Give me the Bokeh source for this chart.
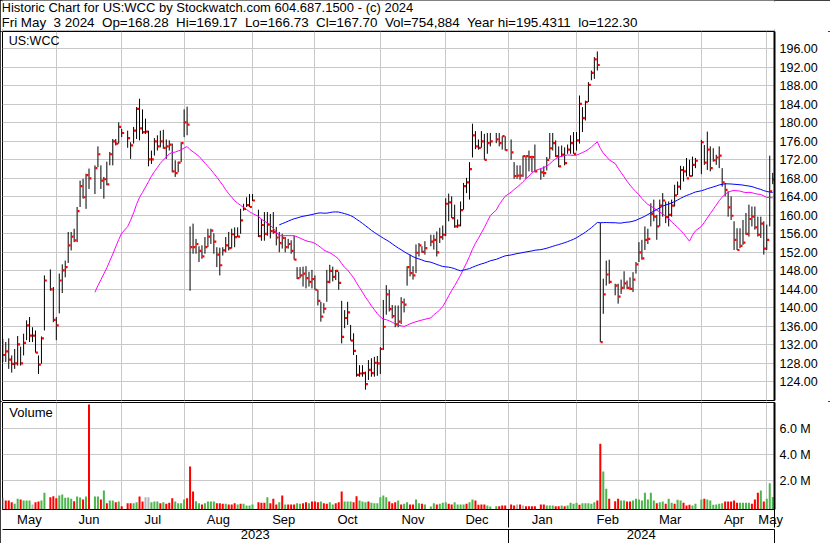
import numpy as np
import pandas as pd
from bokeh.plotting import figure
from bokeh.models import (Range1d, FixedTicker, PrintfTickFormatter, Label, LinearAxis,
                          ColumnDataSource)
from bokeh.layouts import column
from bokeh.embed import file_html
from bokeh.resources import INLINE

# ---------------- chart values ----------------
first_day = "2023-05-08"
last_day = "2024-05-03"
holidays = ["2023-05-29", "2023-06-19", "2023-07-04", "2023-09-04", "2023-11-23",
            "2023-12-25", "2024-01-01", "2024-01-15", "2024-02-19", "2024-03-29"]

high = [
    133.3, 132.6, 133.4, 129.7, 131.1, 133.9, 131.6, 134.4, 137.3, 138.0, 135.8, 135.1, 129.7, 133.8, 147.0, 148.3, 144.5,
    138.0, 147.4, 149.4, 150.2, 156.4, 156.4, 157.1, 161.8, 167.5, 167.9, 169.0, 170.1, 170.8, 174.9, 170.8, 168.3, 171.6, 173.7, 176.5, 176.5, 180.1,
    178.7, 178.3, 175.8, 179.1, 183.4, 185.2, 182.9, 180.9, 178.3, 174.0, 176.7, 177.3, 178.3, 178.5, 176.4, 176.2, 175.5, 171.9, 171.6, 175.8,
    182.9, 183.5, 157.6, 158.2, 154.9, 153.3, 153.5, 155.3, 157.1, 157.1, 156.1, 153.1, 153.0, 153.1, 155.3, 156.4, 157.1, 157.4, 157.4, 161.4, 162.5, 163.9, 164.6,
    164.6, 161.2, 159.2, 160.7, 160.7, 160.3, 160.7, 157.5, 156.4, 156.0, 155.3, 154.9, 154.6, 155.6, 148.8, 148.8, 148.9, 149.0, 147.8, 148.2,
    147.0, 143.9, 141.3, 141.0, 148.2, 149.3, 148.9, 148.2, 147.8, 141.5, 139.5, 141.3, 136.3, 134.5, 129.8, 127.6, 127.6, 126.2, 128.7, 129.1, 129.4, 129.6,
    131.5, 141.7, 144.9, 143.9, 140.6, 140.5, 140.5, 142.3, 142.0, 149.0, 151.5, 149.0, 153.7, 154.0, 153.3, 154.4, 155.8, 155.8, 156.5, 157.3, 157.8,
    163.7, 164.7, 164.1, 162.3, 159.1, 163.0, 167.0, 168.1, 171.5, 179.8, 178.2, 176.4, 178.2, 177.6, 177.8, 177.8, 177.8, 177.8, 177.1, 177.1,
    176.4, 171.5, 170.8, 170.8, 172.9, 172.9, 174.0, 172.9, 175.3, 170.1, 170.6, 172.6, 177.8, 177.8, 176.2, 174.9, 175.1, 174.7, 175.3, 177.3, 178.0,
    178.0, 185.9, 183.4, 184.8, 188.8, 191.3, 194.2, 195.43, 158.4, 146.3, 150.2, 150.4, 145.2, 145.2, 146.1, 147.9, 145.9, 146.6, 147.7, 149.9,
    154.2, 154.7, 157.6, 157.1, 162.6, 163.4, 160.1, 163.4, 164.8, 163.0, 163.0, 163.4, 166.6, 167.3, 170.7, 170.6, 172.4, 172.0, 172.7, 172.4,
    176.3, 175.2, 178.1, 174.9, 174.5, 173.1, 174.9, 170.2, 167.0, 165.2, 164.1, 158.7, 157.2, 157.2, 159.0, 160.5, 162.3, 161.9, 161.9, 159.7, 159.7, 158.7,
    158.0, 172.9, 169.17,
]
low = [
    128.3, 128.3, 126.8, 126.0, 126.8, 127.5, 127.5, 129.7, 133.0, 132.6, 132.6, 130.3, 125.7, 127.9, 135.1, 143.7, 136.9,
    133.0, 138.8, 143.2, 146.6, 149.7, 152.4, 154.2, 154.2, 161.8, 163.6, 161.4, 165.7, 164.6, 170.4, 165.7, 163.6, 166.5, 170.8, 170.8, 175.1, 175.5,
    176.9, 174.6, 172.2, 175.5, 176.5, 176.2, 177.6, 177.6, 170.6, 171.1, 172.9, 174.0, 174.7, 174.4, 172.2, 174.0, 169.3, 168.3, 169.3, 171.5,
    176.9, 177.3, 143.7, 151.7, 151.7, 149.9, 150.6, 151.7, 153.1, 153.8, 151.7, 148.8, 147.0, 151.3, 152.0, 152.4, 152.8, 153.1, 155.3, 156.0, 161.0, 161.8, 161.8,
    163.1, 155.3, 154.5, 154.5, 155.6, 155.0, 156.0, 153.5, 152.0, 152.8, 152.0, 152.8, 151.7, 150.4, 146.2, 146.4, 144.6, 144.2, 144.6, 144.2,
    143.9, 140.5, 137.0, 138.8, 141.3, 145.3, 145.7, 146.0, 143.9, 132.3, 135.6, 136.3, 132.9, 129.8, 125.1, 125.1, 125.1, 122.3, 124.4, 125.1, 125.1, 125.3,
    125.7, 130.9, 138.5, 139.2, 137.7, 135.8, 135.8, 136.5, 139.0, 144.8, 146.8, 146.1, 147.5, 151.1, 151.9, 151.5, 153.3, 152.6, 151.1, 154.0, 154.7,
    155.5, 158.7, 159.4, 157.3, 157.3, 157.6, 161.2, 164.8, 163.4, 172.5, 174.3, 174.2, 174.6, 172.0, 173.3, 174.9, 175.6, 174.9, 174.2, 174.0,
    172.0, 167.9, 167.9, 167.7, 168.3, 167.9, 169.5, 169.3, 169.3, 167.7, 168.3, 169.7, 172.2, 174.0, 172.6, 170.4, 172.6, 170.8, 173.3, 173.3, 173.3,
    174.0, 175.5, 178.0, 180.5, 184.5, 189.2, 189.5, 191.3, 132.6, 138.7, 144.8, 145.2, 142.7, 140.9, 143.0, 144.1, 144.1, 143.9, 143.4, 147.4,
    149.9, 150.4, 152.5, 153.8, 157.6, 158.7, 154.7, 157.6, 159.7, 158.3, 157.6, 159.7, 161.9, 164.4, 165.5, 167.3, 168.4, 168.4, 168.4, 170.2,
    168.9, 170.9, 169.8, 169.5, 171.6, 170.9, 170.2, 166.2, 164.1, 159.7, 159.0, 152.5, 152.5, 152.9, 153.6, 155.8, 155.4, 157.6, 156.9, 155.4, 155.1, 151.5,
    152.5, 157.6, 166.73,
]
close = [
    129.8, 130.6, 128.8, 127.9, 128.0, 132.1, 128.0, 132.4, 136.2, 134.0, 134.0, 130.3, 127.7, 133.4, 145.9, 144.0, 137.4,
    136.2, 145.9, 148.1, 148.8, 153.5, 155.4, 154.6, 160.9, 166.3, 163.9, 168.7, 168.0, 170.2, 173.2, 167.5, 167.8, 166.7, 173.2, 176.0, 175.5, 179.1,
    177.8, 176.7, 175.1, 178.3, 183.0, 178.8, 178.0, 178.1, 172.1, 172.1, 176.0, 174.9, 176.0, 174.6, 174.9, 175.3, 169.5, 169.1, 171.4, 175.6,
    180.1, 179.6, 153.1, 153.1, 153.8, 152.3, 151.1, 153.1, 155.4, 156.7, 154.3, 151.5, 149.2, 152.4, 153.5, 152.9, 155.9, 155.3, 155.4, 158.9, 161.4, 162.2, 161.8,
    163.2, 155.5, 157.9, 156.0, 158.0, 156.6, 156.4, 155.2, 154.0, 155.1, 153.1, 153.8, 152.3, 150.4, 146.4, 147.0, 147.4, 146.4, 145.6, 146.2,
    143.9, 141.5, 138.1, 139.8, 145.6, 148.0, 146.7, 148.0, 145.4, 133.7, 137.8, 139.0, 132.9, 130.7, 125.5, 125.8, 125.9, 123.5, 126.6, 125.9, 128.1, 128.0,
    131.1, 135.9, 142.9, 139.7, 138.2, 136.4, 137.0, 141.2, 140.7, 148.8, 147.5, 147.0, 151.9, 153.5, 152.1, 152.9, 154.3, 154.7, 152.0, 155.3, 155.8,
    162.5, 162.8, 159.4, 157.6, 157.8, 161.1, 166.3, 167.1, 170.0, 177.3, 174.9, 174.6, 176.0, 172.0, 175.6, 176.0, 176.4, 175.6, 177.1, 174.1,
    173.6, 168.5, 168.6, 168.6, 172.8, 172.8, 172.6, 172.6, 169.5, 169.3, 169.1, 172.0, 174.5, 175.6, 172.8, 170.6, 173.1, 171.3, 174.2, 175.6, 173.3,
    176.2, 184.1, 181.0, 184.5, 188.2, 190.8, 193.7, 192.5, 132.6, 142.9, 147.2, 145.6, 144.8, 142.4, 144.3, 145.3, 144.3, 144.1, 146.1, 149.4,
    152.0, 150.7, 154.7, 154.9, 160.3, 159.7, 157.6, 162.1, 163.2, 159.6, 160.1, 162.1, 164.3, 166.2, 169.8, 169.5, 168.0, 168.5, 170.9, 171.8,
    175.8, 171.4, 174.2, 170.2, 171.9, 172.5, 172.9, 167.1, 165.5, 161.7, 159.9, 154.7, 152.5, 153.4, 154.1, 156.0, 159.2, 159.7, 157.4, 155.8, 158.2, 152.8,
    154.7, 165.2, 167.70,
]
# daily volume, thousands of shares
volume_k = [
    690, 485, 485, 356, 228, 613, 562, 485, 485, 485, 177, 356, 408, 485, 1074, 741, 818,
    664, 869, 946, 690, 715, 613, 433, 792, 715, 562, 792, 7869, 792, 792, 562, 1254, 279, 485, 485, 356, 408,
    49, 279, 279, 279, 356, 792, 408, 741, 741, 356, 408, 408, 279, 356, 228, 305, 664, 408, 279, 279,
    562, 664, 3100, 1177, 433, 279, 177, 279, 408, 408, 408, 279, 279, 228, 228, 177, 177, 279, 177, 228, 228, 100, 100,
    177, 356, 305, 305, 741, 279, 613, 177, 356, 869, 177, 177, 177, 177, 279, 228, 279, 356, 279, 408,
    408, 356, 408, 279, 228, 356, 177, 279, 356, 1177, 408, 408, 408, 356, 818, 485, 408, 356, 408, 305, 279, 279,
    741, 869, 741, 408, 279, 356, 485, 177, 228, 356, 177, 177, 562, 279, 228, 177, 20, 279, 177, 228, 305,
    356, 228, 177, 356, 177, 177, 177, 228, 356, 562, 485, 151, 177, 177, 100, 20, 49, 49, 100, 100,
    177, 100, 177, 177, 100, 49, 49, 49, 49, 177, 177, 100, 100, 100, 49, 49, 100, 49, 100, 305, 228,
    305, 151, 279, 279, 279, 228, 356, 485, 4844, 2715, 1382, 613, 433, 613, 485, 485, 408, 408, 485, 613,
    562, 485, 1074, 562, 1074, 485, 279, 356, 408, 228, 613, 305, 228, 536, 485, 305, 100, 151, 100, 228,
    562, 613, 562, 485, 151, 177, 228, 279, 408, 408, 408, 485, 305, 305, 305, 305, 305, 228, 562, 1074, 1254, 408,
    613, 1818, 755,
]
# day direction shown by the volume colour: u = up, d = down, n = unchanged
volume_dir = (
    "n d d d u u d u u u n d d u u d d "
    "d u u u u u d u u d u d u u d u d u u d u "
    "d d d u u d d n n u u u d u d d d u u u "
    "u d d d u u d u u u u d d d u d d d u d u u u "
    "u d d d u d d d u d u d d d u u d d u d "
    "d d u d d u u d d d u u u d d u u u d u u u "
    "u u u d d d u d u u d d u u d u u u d u u "
    "u d d u u u u d u u d d d d u u u d d d "
    "d d n d n d d d d d d u u u d d u d u u u "
    "u d u u u u u d d u u d d d u u d d u u "
    "u u u u u u d u u d u u d u u d d d u u "
    "u d u u u u u u d d d d d u u u u d d d u d "
    "u u u"
).split()

price_ticks = [124, 128, 132, 136, 140, 144, 148, 152, 156, 160, 164, 168, 172, 176, 180, 184, 188, 192, 196]
volume_ticks_m = [2, 4, 6]
month_labels = ["May", "Jun", "Jul", "Aug", "Sep", "Oct", "Nov", "Dec", "Jan", "Feb", "Mar", "Apr", "May"]
year_labels = ["2023", "2024"]
title_line = "Historic Chart for US:WCC by Stockwatch.com 604.687.1500 - (c) 2024"
NB = "\u00a0 "  # double gap kept visible in SVG text
quote_line = NB.join(["Fri May", "3 2024", "Op=168.28", "Hi=169.17", "Lo=166.73",
                      "Cl=167.70", "Vol=754,884", "Year hi=195.4311", "lo=122.30"])
symbol = "US:WCC"
ma_short, ma_long = 30, 90

# ---------------- derived values ----------------
weekdays = pd.bdate_range(first_day, last_day)
trade_days = weekdays[~weekdays.isin(pd.to_datetime(holidays))]
slot = pd.Series(np.arange(len(weekdays)), index=weekdays)
xs = slot[trade_days].to_numpy().astype(float)

closes = pd.Series(close, dtype=float)
ma_s = closes.rolling(ma_short).mean()
ma_l = closes.rolling(ma_long).mean()

dir_colour = {"u": "#4CB54C", "d": "#FF0000", "n": "#B4B4B4"}
src = ColumnDataSource(dict(
    x=xs, xc=xs + 0.45, high=high, low=low, close=close,
    ma_s=ma_s.to_numpy(), ma_l=ma_l.to_numpy(),
    vol=np.array(volume_k, dtype=float) / 1000.0,
    vcol=[dir_colour[d] for d in volume_dir],
))

firsts = slot.groupby([weekdays.year, weekdays.month]).min()
month_starts = [float(v) for v in firsts.values[1:]]
jan_slot = float(firsts.loc[(2024, 1)])

# ---------------- layout / styling ----------------
FONT = "Liberation Sans"
GRID = "#C8C8C8"
W = 830
LB, RB = 2, 56
FRAME_W = W - LB - RB
XR = Range1d(-0.1, 259.6)
VOL_BOTTOM = -0.208
BOX = {"outline": "2px solid black", "outline-offset": "-2px"}

bounds = [XR.start] + month_starts + [XR.end]
month_mid = [round((bounds[i] + bounds[i + 1]) / 2, 3) for i in range(len(month_labels))]
year_mid = [round((XR.start + jan_slot) / 2, 3), round((jan_slot + XR.end) / 2, 3)]
row_marks = [jan_slot, XR.end - 0.02]


def style_axis(ax, ticks, fmt):
    ax.ticker = FixedTicker(ticks=ticks)
    ax.formatter = PrintfTickFormatter(format=fmt)
    ax.major_tick_line_color = None
    ax.minor_tick_line_color = None
    ax.major_tick_out = 0
    ax.major_tick_in = 0
    ax.axis_line_color = "black"
    ax.axis_line_width = 2
    ax.major_label_standoff = 5
    ax.major_label_text_font = FONT
    ax.major_label_text_font_size = "12.5px"
    ax.major_label_text_color = "black"


def style_row_axis(ax, ticks, labels, mark_len, gap):
    # labels sit in a row of height ~mark_len under the axis line; the minor
    # ticks draw the row separators at the year change and at the right edge
    ax.ticker = FixedTicker(ticks=ticks, minor_ticks=row_marks)
    ax.major_label_overrides = {t: s for t, s in zip(ticks, labels)}
    ax.major_tick_line_color = None
    ax.major_tick_out = 0
    ax.major_tick_in = 0
    ax.minor_tick_line_color = "black"
    ax.minor_tick_line_width = 1
    ax.minor_tick_out = mark_len
    ax.minor_tick_in = 0
    ax.axis_line_color = "black"
    ax.axis_line_width = 1
    ax.major_label_standoff = gap - mark_len
    ax.major_label_text_font = FONT
    ax.major_label_text_font_size = "13px"
    ax.major_label_text_color = "black"


# header box
hdr = figure(width=W, height=31, x_range=Range1d(0, FRAME_W), y_range=Range1d(0, 30),
             output_backend="svg", toolbar_location=None, styles=BOX,
             min_border_left=LB, min_border_right=RB, min_border_top=0, min_border_bottom=1,
             x_axis_location=None, y_axis_location=None)
hdr.grid.visible = False
hdr.outline_line_color = None
hdr.add_layout(Label(x=-1.0, y=31.0, text=title_line, text_font=FONT, text_font_size="13px",
                     text_baseline="top", text_color="black"))
hdr.add_layout(Label(x=-1.0, y=15.6, text=quote_line, text_font=FONT, text_font_size="13.4px",
                     text_baseline="top", text_color="black"))

# price panel
pr = figure(width=W, height=370, x_range=XR, y_range=Range1d(119.96, 199.74),
            output_backend="svg", toolbar_location=None,
            min_border_left=LB, min_border_right=RB, min_border_top=0, min_border_bottom=1,
            x_axis_location=None, y_axis_location="right")
style_axis(pr.yaxis[0], price_ticks, "%.2f")
pr.xgrid.ticker = FixedTicker(ticks=month_starts)
pr.grid.grid_line_color = GRID
pr.outline_line_color = "black"
pr.outline_line_width = 1
pr.segment("x", "low", "x", "high", source=src, line_color="black", line_width=1)
pr.line("x", "ma_s", source=src, line_color="#FF00FF", line_width=1)
pr.line("x", "ma_l", source=src, line_color="#0000FF", line_width=1)
pr.scatter("xc", "close", source=src, marker="square", size=2.2,
           fill_color="#FF0000", line_color=None)
pr.add_layout(Label(x=2.0, y=199.2, text=symbol, text_font=FONT, text_font_size="12.5px",
                    text_baseline="top", text_color="black"))

# volume panel with month and year rows underneath
vo = figure(width=W, height=142, x_range=XR, y_range=Range1d(VOL_BOTTOM, 8.023),
            output_backend="svg", toolbar_location=None,
            min_border_left=LB, min_border_right=RB, min_border_top=1, min_border_bottom=34,
            x_axis_location="below", y_axis_location="right")
style_axis(vo.yaxis[0], volume_ticks_m, "%.1f M")
style_row_axis(vo.xaxis[0], month_mid, month_labels, 18, 2)
year_axis = LinearAxis()
style_row_axis(year_axis, year_mid, year_labels, 16, 0)
vo.add_layout(year_axis, "below")
vo.xgrid.ticker = FixedTicker(ticks=month_starts)
vo.grid.grid_line_color = GRID
vo.outline_line_color = "black"
vo.outline_line_width = 1
vo.vbar(x="x", top="vol", bottom=VOL_BOTTOM, width=0.68, source=src,
        fill_color="vcol", line_color=None)
vo.add_layout(Label(x=2.2, y=7.8, text="Volume", text_font=FONT, text_font_size="13px",
                    text_baseline="top", text_color="black"))

layout = column(hdr, pr, vo, spacing=0, styles=BOX)

open("out.html", "w").write(file_html(layout, INLINE, title="US:WCC"))
